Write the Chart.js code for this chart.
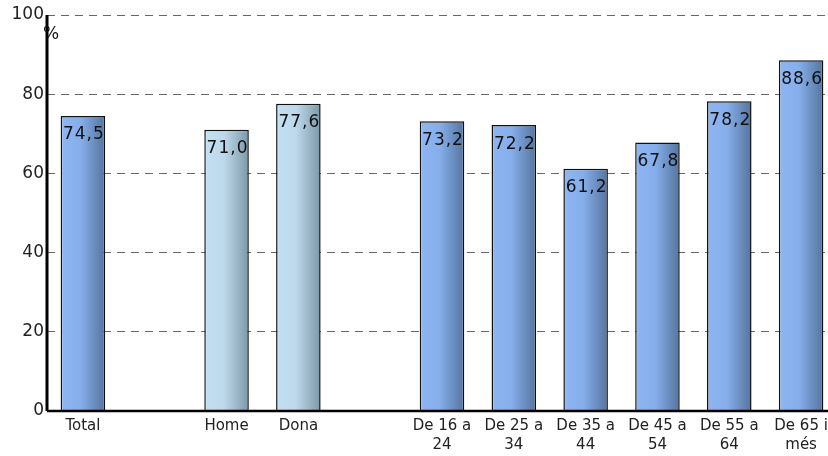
<!DOCTYPE html>
<html>
<head>
<meta charset="utf-8">
<script src="https://cdn.jsdelivr.net/npm/chart.js@4/dist/chart.umd.min.js"></script>
<style>
  html, body { margin: 0; padding: 0; background: #fff; overflow: hidden; }
  #wrap { width: 842px; height: 456px; }
</style>
</head>
<body>
<div id="wrap"><canvas id="chart"></canvas></div>
<script>
// data (empty slots keep the gaps between groups)
const categories = [
  "Total", "", "Home", "Dona", "",
  ["De 16 a", "24"], ["De 25 a", "34"], ["De 35 a", "44"],
  ["De 45 a", "54"], ["De 55 a", "64"], ["De 65 i", "més"]
];
const values = [74.5, null, 71.0, 77.6, null, 73.2, 72.2, 61.2, 67.8, 78.2, 88.6];
const sexGroup = [false, false, true, true, false, false, false, false, false, false, false];
const yTicks = [0, 20, 40, 60, 80, 100];

const barPct = 0.62;

function barFill(ctx) {
  const chart = ctx.chart;
  const x = chart.scales && chart.scales.x;
  if (!chart.chartArea || !x) return "#86aeea";
  const i = ctx.dataIndex;
  const center = x.getPixelForValue(i);
  const half = (chart.chartArea.width / categories.length) * barPct / 2;
  const g = chart.ctx.createLinearGradient(center - half, 0, center + half, 0);
  if (sexGroup[i]) {
    g.addColorStop(0, "#e6f3fb");
    g.addColorStop(0.06, "#c3e0f2");
    g.addColorStop(0.45, "#bcd8ea");
    g.addColorStop(1, "#7c98a8");
  } else {
    g.addColorStop(0, "#bcd6fa");
    g.addColorStop(0.06, "#8cb5f2");
    g.addColorStop(0.45, "#86aeea");
    g.addColorStop(1, "#55749f");
  }
  return g;
}

// value labels just inside the top of each bar, comma decimals
const valueLabels = {
  id: "valueLabels",
  afterDatasetsDraw(chart) {
    const ctx = chart.ctx;
    const meta = chart.getDatasetMeta(0);
    ctx.save();
    ctx.font = "17px 'DejaVu Sans'";
    ctx.letterSpacing = "1px";
    ctx.fillStyle = "#111";
    ctx.textAlign = "center";
    ctx.textBaseline = "middle";
    meta.data.forEach((bar, i) => {
      if (values[i] == null) return;
      ctx.fillText(values[i].toFixed(1).replace(".", ","), bar.x + 1, bar.y + 19);
    });
    ctx.restore();
  }
};

// thick axis lines and the "%" unit
const axisLines = {
  id: "axisLines",
  afterDraw(chart) {
    const { ctx, chartArea } = chart;
    ctx.save();
    ctx.strokeStyle = "#000";
    ctx.lineWidth = 3;
    ctx.beginPath();
    ctx.moveTo(chartArea.left, chartArea.top);
    ctx.lineTo(chartArea.left, chartArea.bottom);
    ctx.stroke();
    ctx.lineWidth = 2.5;
    ctx.beginPath();
    ctx.moveTo(chartArea.left, chartArea.bottom);
    ctx.lineTo(chartArea.right, chartArea.bottom);
    ctx.stroke();
    ctx.font = "17px 'DejaVu Sans'";
    ctx.fillStyle = "#111";
    ctx.textAlign = "left";
    ctx.textBaseline = "top";
    ctx.fillText("%", chartArea.left - 4, chartArea.top + 11);
    ctx.restore();
  }
};

new Chart(document.getElementById("chart"), {
  type: "bar",
  data: {
    labels: categories,
    datasets: [{
      data: values,
      backgroundColor: barFill,
      borderColor: "#111",
      borderWidth: 1.5,
      borderSkipped: "bottom",
      categoryPercentage: 1,
      barPercentage: barPct
    }]
  },
  options: {
    responsive: true,
    maintainAspectRatio: false,
    animation: false,
    layout: { padding: { top: 15, right: 5, left: 0, bottom: 0 } },
    plugins: {
      legend: { display: false },
      tooltip: { enabled: false }
    },
    scales: {
      x: {
        grid: { display: false, drawTicks: false },
        border: { display: false },
        ticks: {
          color: "#222",
          font: { family: "'DejaVu Sans'", size: 15, lineHeight: 1.3 },
          padding: 5,
          maxRotation: 0,
          autoSkip: false
        },
        afterFit(scale) { scale.height = 45; }
      },
      y: {
        min: 0,
        max: 100,
        afterBuildTicks(scale) { scale.ticks = yTicks.map(v => ({ value: v })); },
        grid: {
          color: "#666",
          lineWidth: 1,
          drawTicks: false
        },
        border: { display: false, dash: [8, 6] },
        ticks: {
          color: "#222",
          font: { family: "'DejaVu Sans'", size: 17 },
          padding: 3
        },
        afterFit(scale) { scale.width = 47; }
      }
    }
  },
  plugins: [valueLabels, axisLines]
});
</script>
</body>
</html>
